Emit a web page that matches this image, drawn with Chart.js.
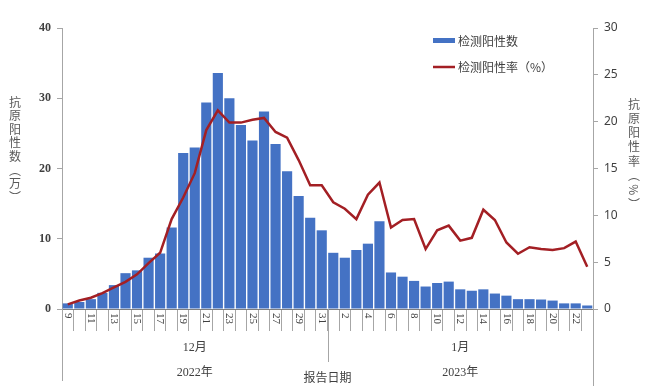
<!DOCTYPE html>
<html lang="zh">
<head>
<meta charset="utf-8">
<title>抗原阳性数与阳性率</title>
<script src="https://cdn.jsdelivr.net/npm/chart.js@4.4.1/dist/chart.umd.min.js"></script>
<style>
  html, body { margin: 0; padding: 0; background: #fff; }
  #wrap { position: relative; width: 649px; height: 386px; }
</style>
</head>
<body>
<div id="wrap"><canvas id="antigenChart" width="649" height="386"></canvas></div>
<script>
  /************************************************
   *  DATA
   ************************************************/
  // report dates: 12/9 .. 12/31, then 1/1 .. 1/23
  const dayLabels = [
    "9", "10", "11", "12", "13", "14", "15", "16", "17", "18", "19", "20",
    "21", "22", "23", "24", "25", "26", "27", "28", "29", "30", "31",
    "1", "2", "3", "4", "5", "6", "7", "8", "9", "10", "11", "12",
    "13", "14", "15", "16", "17", "18", "19", "20", "21", "22", "23",
  ];

  // 检测阳性数 (万)
  const positiveCount = [
    0.8, 1.0, 1.4, 2.3, 3.4, 5.1, 5.5, 7.3, 7.9, 11.6, 22.2, 23.0,
    29.4, 33.6, 30.0, 26.2, 24.0, 28.1, 23.5, 19.6, 16.1, 13.0, 11.2,
    8.0, 7.3, 8.4, 9.3, 12.5, 5.2, 4.6, 4.0, 3.2, 3.7, 3.9, 2.8,
    2.6, 2.8, 2.2, 1.9, 1.4, 1.4, 1.35, 1.2, 0.8, 0.8, 0.5,
  ];

  // 检测阳性率 (%)
  const positiveRate = [
    0.5, 0.9, 1.2, 1.7, 2.3, 2.9, 3.7, 4.9, 6.0, 9.6, 11.9, 14.5,
    19.1, 21.2, 19.9, 19.9, 20.2, 20.4, 18.9, 18.3, 15.9, 13.2, 13.2,
    11.4, 10.7, 9.6, 12.2, 13.5, 8.7, 9.5, 9.6, 6.4, 8.4, 8.9, 7.3,
    7.6, 10.6, 9.5, 7.1, 5.9, 6.6, 6.4, 6.3, 6.5, 7.2, 4.5,
  ];

  // month groups under the date axis
  const monthLabels = ["12月", "1月"];
  const yearLabels = ["2022年", "2023年"];
  const monthStart = [0, 23];
  const axisTitle = "报告日期";

  const leftTitle = ["抗", "原", "阳", "性", "数", "︵", "万", "︶"];
  const rightTitle = ["抗", "原", "阳", "性", "率", "︵", "%", "︶"];

  const barColor = "#4472C4";
  const lineColor = "#A31F24";
  const axisColor = "#A6A6A6";
  const textColor = "#404040";
  const cjkFont = '"Noto Sans CJK SC", "Noto Sans", sans-serif';
  const serifFont = '"Liberation Serif", "Noto Sans CJK SC", serif';

  /************************************************
   *  EXTRA AXIS DECORATION (labels, groups, legend)
   ************************************************/
  const axisDecorPlugin = {
    id: "axisDecor",
    afterDraw(chart) {
      const ctx = chart.ctx;
      const xs = chart.scales.x;
      const area = chart.chartArea;
      const step = xs.getPixelForValue(1) - xs.getPixelForValue(0);
      const edge = (i) => xs.getPixelForValue(i) - step / 2;

      ctx.save();

      // day labels, every other date, turned clockwise
      ctx.fillStyle = textColor;
      ctx.font = "11px " + serifFont;
      ctx.textAlign = "left";
      ctx.textBaseline = "middle";
      dayLabels.forEach((d, i) => {
        if (i % 2 !== 0) return;
        ctx.save();
        ctx.translate(xs.getPixelForValue(i), area.bottom + 4);
        ctx.rotate(Math.PI / 2);
        ctx.fillText(d, 0, 0);
        ctx.restore();
      });

      // group separators below the axis
      ctx.strokeStyle = axisColor;
      ctx.lineWidth = 1;
      ctx.beginPath();
      ctx.moveTo(Math.round(area.left) + 0.5, area.bottom);
      ctx.lineTo(Math.round(area.left) + 0.5, area.bottom + 72);
      ctx.moveTo(Math.round(edge(monthStart[1])) + 0.5, area.bottom);
      ctx.lineTo(Math.round(edge(monthStart[1])) + 0.5, area.bottom + 53);
      ctx.moveTo(Math.round(area.right) + 0.5, area.bottom);
      ctx.lineTo(Math.round(area.right) + 0.5, area.bottom + 77);
      ctx.stroke();

      // month and year names
      ctx.textAlign = "center";
      ctx.font = "12px " + serifFont;
      monthLabels.forEach((m, k) => {
        const from = edge(monthStart[k]);
        const to = k + 1 < monthStart.length ? edge(monthStart[k + 1]) : area.right;
        const cx = (from + to) / 2;
        ctx.fillText(m, cx, area.bottom + 39);
        ctx.fillText(yearLabels[k], cx, area.bottom + 64);
      });
      ctx.font = "12px " + cjkFont;
      ctx.fillText(axisTitle, edge(monthStart[1]), area.bottom + 68);

      // vertical axis titles (stacked characters)
      ctx.fillStyle = "#595959";
      ctx.font = "12px " + cjkFont;
      leftTitle.forEach((c, i) => {
        ctx.fillText(c, 15, 102 + i * 13.6);
      });
      rightTitle.forEach((c, i) => {
        const y = 104 + i * 14.3;
        if (c === "%") {
          ctx.save();
          ctx.translate(634, y);
          ctx.rotate(Math.PI / 2);
          ctx.fillText(c, 0, 0);
          ctx.restore();
        } else {
          ctx.fillText(c, 634, y);
        }
      });

      // legend
      ctx.fillStyle = barColor;
      ctx.fillRect(433, 38, 22, 5);
      ctx.strokeStyle = lineColor;
      ctx.lineWidth = 2.5;
      ctx.beginPath();
      ctx.moveTo(433, 67);
      ctx.lineTo(455, 67);
      ctx.stroke();
      ctx.fillStyle = textColor;
      ctx.textAlign = "left";
      ctx.font = "12px " + cjkFont;
      ctx.fillText(chart.data.datasets[1].label, 458, 41);
      ctx.fillText(chart.data.datasets[0].label, 458, 67);

      ctx.restore();
    },
  };

  /************************************************
   *  CHART
   ************************************************/
  const ctx = document.getElementById("antigenChart").getContext("2d");
  const antigenChart = new Chart(ctx, {
    type: "bar",
    data: {
      labels: dayLabels,
      datasets: [
        {
          type: "line",
          label: "检测阳性率（%）",
          data: positiveRate,
          yAxisID: "y1",
          borderColor: lineColor,
          borderWidth: 2.5,
          pointRadius: 0,
          tension: 0,
          order: 0,
        },
        {
          type: "bar",
          label: "检测阳性数",
          data: positiveCount,
          yAxisID: "y",
          backgroundColor: barColor,
          barPercentage: 1,
          categoryPercentage: 0.88,
          order: 1,
        },
      ],
    },
    options: {
      responsive: false,
      animation: false,
      layout: { padding: { top: 28, left: 0, right: 0, bottom: 0 } },
      plugins: {
        legend: { display: false },
        tooltip: { enabled: false },
      },
      scales: {
        x: {
          offset: true,
          grid: {
            offset: true,
            drawOnChartArea: false,
            tickLength: 22,
            color: axisColor,
          },
          border: { color: "#7F7F7F" },
          ticks: { display: false },
          afterFit: (s) => { s.height = 77; },
        },
        y: {
          position: "left",
          min: 0,
          max: 40,
          ticks: {
            stepSize: 10,
            color: "#404040",
            padding: 6,
            font: { family: serifFont, size: 12, weight: "bold" },
          },
          grid: { drawOnChartArea: false, tickLength: 5, color: axisColor },
          border: { color: axisColor },
          afterFit: (s) => { s.width = 62; },
        },
        y1: {
          position: "right",
          min: 0,
          max: 30,
          ticks: {
            stepSize: 5,
            color: "#404040",
            padding: 6,
            font: { family: '"Noto Sans", sans-serif', size: 12 },
          },
          grid: { drawOnChartArea: false, tickLength: 5, color: axisColor },
          border: { color: axisColor },
          afterFit: (s) => { s.width = 56; },
        },
      },
    },
    plugins: [axisDecorPlugin],
  });
</script>
</body>
</html>
